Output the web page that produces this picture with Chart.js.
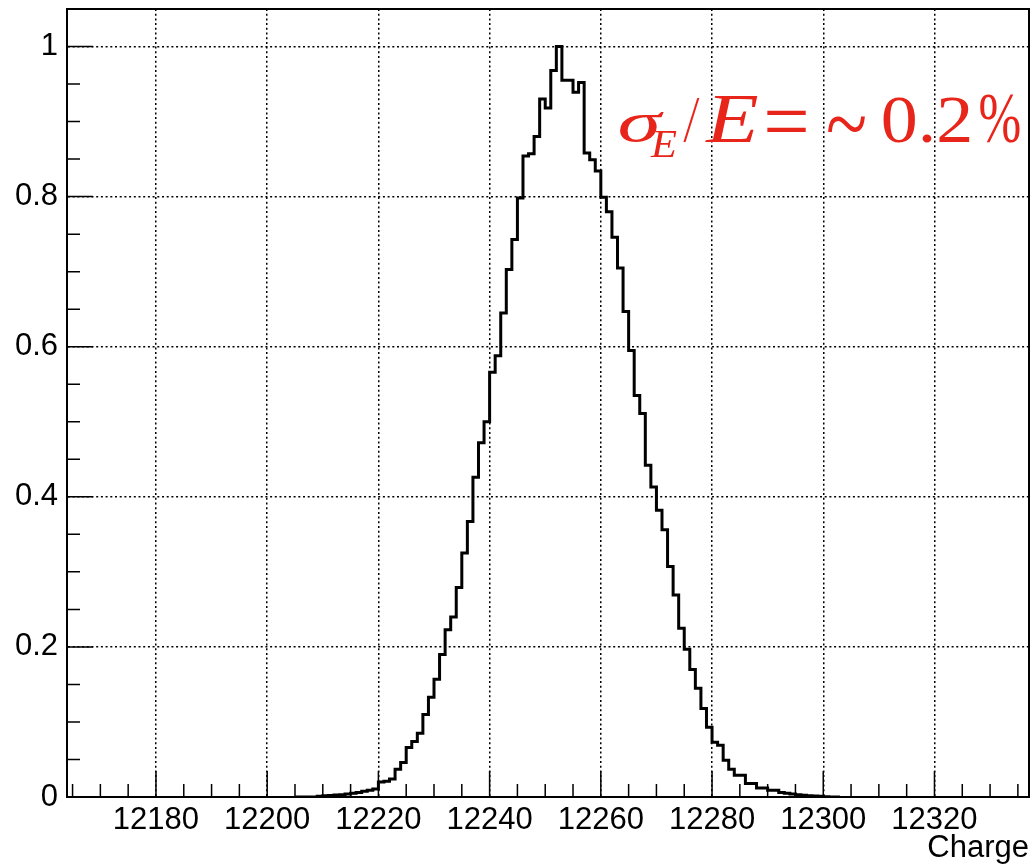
<!DOCTYPE html>
<html>
<head>
<meta charset="utf-8">
<script src="https://cdn.jsdelivr.net/npm/chart.js"></script>
<style>
html, body { margin: 0; padding: 0; background: #fff; }
#chartCharge { display: block; }
</style>
</head>
<body>
<canvas id="chartCharge" width="1036" height="868"></canvas>
<script>
// histogram, unit-wide bins, first lower edge = binStart
var binStart = 12205;
var binWidth = 1;
var counts = [
    0, 0, 0, 0, 0.001, 0.0015, 0.002, 0.0025, 0.003, 0.004,            // 12205-12214
    0.005, 0.006, 0.0075, 0.009, 0.0105, 0.020, 0.021, 0.024, 0.037, 0.046, // 12215-12224
    0.066, 0.074, 0.085, 0.110, 0.133, 0.157, 0.190, 0.223, 0.240, 0.279, // 12225-12234
    0.325, 0.367, 0.426, 0.472, 0.500, 0.566, 0.588, 0.645, 0.703, 0.743, // 12235-12244
    0.798, 0.854, 0.857, 0.880, 0.930, 0.918, 0.968, 1.000, 0.955, 0.955, // 12245-12254
    0.939, 0.952, 0.858, 0.849, 0.834, 0.799, 0.780, 0.746, 0.705, 0.647, // 12255-12264
    0.595, 0.535, 0.511, 0.442, 0.413, 0.382, 0.356, 0.307, 0.269, 0.225, // 12265-12274
    0.197, 0.170, 0.145, 0.118, 0.093, 0.073, 0.069, 0.049, 0.037, 0.029, // 12275-12284
    0.029, 0.018, 0.018, 0.012, 0.012, 0.009, 0.009, 0.006, 0.005, 0.004, // 12285-12294
    0.003, 0.0022, 0.0018, 0.0013, 0.0009, 0.0004, 0, 0                  // 12295-12302
];

// axes
var xMin = 12164;
var xMax = 12337;
var xStep = 20;
var xMinorStep = 5;
var xTickLabels = ["12180", "12200", "12220", "12240", "12260", "12280", "12300", "12320"];
var xTitle = "Charge";

var yMin = 0;
var yMax = 1.05;
var yStep = 0.2;
var yMinorStep = 0.05;
var yTickLabels = ["0", "0.2", "0.4", "0.6", "0.8", "1"];

var labelFont = { family: '"Liberation Sans", Arial, sans-serif', size: 31 };
var noteColor = '#e8251b';

var points = [];
for (var i = 0; i < counts.length; i++) {
    points.push({ x: binStart + i * binWidth, y: counts[i] });
}
points.push({ x: binStart + counts.length * binWidth, y: 0 });

// squeeze/stretch one piece of text into the ink box it has in the picture
function fitBox(ctx, text, font, x0, x1, y0, y1) {
    ctx.font = font;
    var m = ctx.measureText(text);
    var w = m.actualBoundingBoxLeft + m.actualBoundingBoxRight;
    var h = m.actualBoundingBoxAscent + m.actualBoundingBoxDescent;
    var sx = (x1 - x0) / w;
    var sy = (y1 - y0) / h;
    ctx.save();
    ctx.translate(x0 + m.actualBoundingBoxLeft * sx, y0 + m.actualBoundingBoxAscent * sy);
    ctx.scale(sx, sy);
    ctx.fillText(text, 0, 0);
    ctx.restore();
}

var rootStyle = {
    id: 'rootStyle',
    afterDraw: function(chart) {
        var ctx = chart.ctx;
        var area = chart.chartArea;
        var xs = chart.scales.x;
        var ys = chart.scales.y;

        ctx.save();
        ctx.strokeStyle = '#000';
        ctx.lineWidth = 1.5;
        ctx.beginPath();
        // inward ticks on x
        for (var v = Math.ceil(xs.min / xMinorStep) * xMinorStep; v <= xs.max; v += xMinorStep) {
            var px = xs.getPixelForValue(v);
            var len = (v % xStep === 0) ? 26 : 13;
            ctx.moveTo(px, area.bottom);
            ctx.lineTo(px, area.bottom - len);
        }
        // inward ticks on y
        for (var k = 0; yMin + k * yMinorStep <= ys.max + 1e-9; k++) {
            var py = ys.getPixelForValue(yMin + k * yMinorStep);
            var len2 = (k % Math.round(yStep / yMinorStep) === 0) ? 26 : 13;
            ctx.moveTo(area.left, py);
            ctx.lineTo(area.left + len2, py);
        }
        ctx.stroke();

        // frame
        ctx.lineWidth = 2;
        ctx.strokeRect(area.left, area.top, area.right - area.left, area.bottom - area.top);

        // sigma_E / E = ~ 0.2 %
        ctx.fillStyle = noteColor;
        ctx.textAlign = 'left';
        ctx.textBaseline = 'alphabetic';
        var serif = '"Liberation Serif", "DejaVu Serif", serif';
        fitBox(ctx, 'σ', 'italic 68px ' + serif, 620, 664, 112, 142);
        fitBox(ctx, 'E', 'italic 41px ' + serif, 650, 677, 131, 157);
        fitBox(ctx, '/', 'italic 68px ' + serif, 683, 700, 98, 143);
        fitBox(ctx, 'E', 'italic 68px ' + serif, 705, 758, 97, 142);
        fitBox(ctx, '=', '68px ' + serif, 767, 807, 112, 133);
        fitBox(ctx, '~', '68px ' + serif, 827, 865, 115, 131);
        fitBox(ctx, '0.2', '68px ' + serif, 883, 970, 97, 143);
        fitBox(ctx, '%', '68px ' + serif, 980, 1020, 95, 143);
        ctx.restore();
    }
};

var chartCharge = new Chart(document.getElementById("chartCharge"), {
    type: 'line',
    data: {
        datasets: [{
            label: "Charge",
            data: points,
            stepped: true,
            borderColor: '#000',
            borderWidth: 3,
            borderJoinStyle: 'miter',
            borderCapStyle: 'butt',
            pointRadius: 0,
            fill: false,
        }]
    },
    options: {
        responsive: false,
        animation: false,
        events: [],
        layout: {
            padding: { top: 9, right: 7, left: 0, bottom: 0 }
        },
        plugins: {
            legend: { display: false },
            tooltip: { enabled: false }
        },
        scales: {
            x: {
                type: 'linear',
                min: xMin,
                max: xMax,
                grid: { color: '#000', lineWidth: 1.5, drawTicks: false },
                border: { display: true, color: '#000', width: 2, dash: [2, 2.7] },
                ticks: {
                    stepSize: xStep,
                    includeBounds: false,
                    autoSkip: false,
                    maxRotation: 0,
                    padding: 5,
                    color: '#000',
                    font: labelFont,
                    callback: function(value, index) { return xTickLabels[index]; }
                },
                title: {
                    display: true,
                    text: xTitle,
                    align: 'end',
                    color: '#000',
                    font: labelFont,
                    padding: { top: 0, bottom: 1 }
                },
                afterFit: function(scale) {
                    scale.height = 71;
                    scale.paddingLeft = 0;
                    scale.paddingRight = 0;
                }
            },
            y: {
                type: 'linear',
                min: yMin,
                max: yMax,
                grid: { color: '#000', lineWidth: 1.5, drawTicks: false },
                border: { display: true, color: '#000', width: 2, dash: [2, 2.7] },
                ticks: {
                    stepSize: yStep,
                    includeBounds: false,
                    padding: 9,
                    color: '#000',
                    font: labelFont,
                    callback: function(value, index) { return yTickLabels[index]; }
                },
                afterFit: function(scale) {
                    scale.width = 67;
                    scale.paddingTop = 0;
                    scale.paddingBottom = 0;
                }
            }
        }
    },
    plugins: [rootStyle]
});
</script>
</body>
</html>
